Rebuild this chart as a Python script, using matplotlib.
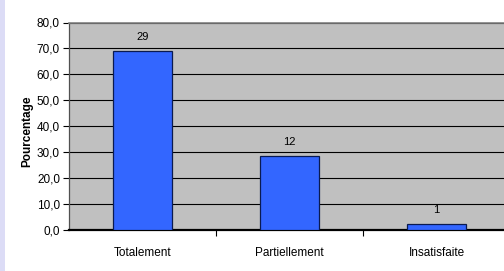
import matplotlib
matplotlib.use("Agg")
import matplotlib.pyplot as plt
from matplotlib.patches import Rectangle

categories = ["Totalement", "Partiellement", "Insatisfaite"]
counts = [29, 12, 1]
percents = [69.0, 28.6, 2.4]
yticks = [0, 10, 20, 30, 40, 50, 60, 70, 80]

plt.rcParams["font.family"] = ["Liberation Sans Narrow", "Liberation Sans", "DejaVu Sans"]

fig = plt.figure(figsize=(5.04, 2.71), dpi=100)
fig.patch.set_facecolor("white")
# light lavender strip at the left edge
fig.patches.append(Rectangle((0, 0), 5 / 504, 1, transform=fig.transFigure,
                             facecolor="#dcdcf6", edgecolor="none", zorder=0))

ax = fig.add_axes([69 / 504, 41 / 271, 441 / 504, 207.5 / 271])
ax.set_facecolor("#c0c0c0")

x = list(range(len(categories)))
ax.bar(x, percents, width=0.4, color="#3366ff", edgecolor="#0a1a50", linewidth=0.9, zorder=3)
for xi, p, c in zip(x, percents, counts):
    ax.annotate(str(c), (xi, p), xytext=(0, 10), textcoords="offset points",
                ha="center", va="center", fontsize=8, color="black")

ax.set_xlim(-0.5, 2.5)
ax.set_ylim(0, 80)
ax.set_yticks(yticks)
ax.set_yticklabels([f"{v:.1f}".replace(".", ",") for v in yticks], fontsize=8.5)
ax.yaxis.grid(True, color="black", linewidth=0.8, zorder=1)
ax.set_axisbelow(True)

ax.set_xticks(x)
ax.set_xticklabels(categories, fontsize=8.5)
ax.set_xticks([0.5, 1.5], minor=True)
ax.tick_params(axis="x", which="major", length=0, pad=12.5)
ax.tick_params(axis="x", which="minor", length=4, width=0.8, color="black")
ax.tick_params(axis="y", length=4.5, width=0.8, color="black", pad=2)

ax.spines["top"].set_color("#808080")
ax.spines["top"].set_linewidth(1.2)
ax.spines["left"].set_color("#505050")
ax.spines["left"].set_linewidth(0.9)
ax.spines["bottom"].set_color("black")
ax.spines["bottom"].set_linewidth(1.6)
ax.spines["right"].set_visible(False)

fig.text(27 / 504, 1 - 131 / 271, "Pourcentage", rotation=90, ha="center", va="center",
         fontsize=8.5, fontweight="bold", family=["Liberation Sans", "DejaVu Sans"])

fig.savefig("out.png", dpi=100)
